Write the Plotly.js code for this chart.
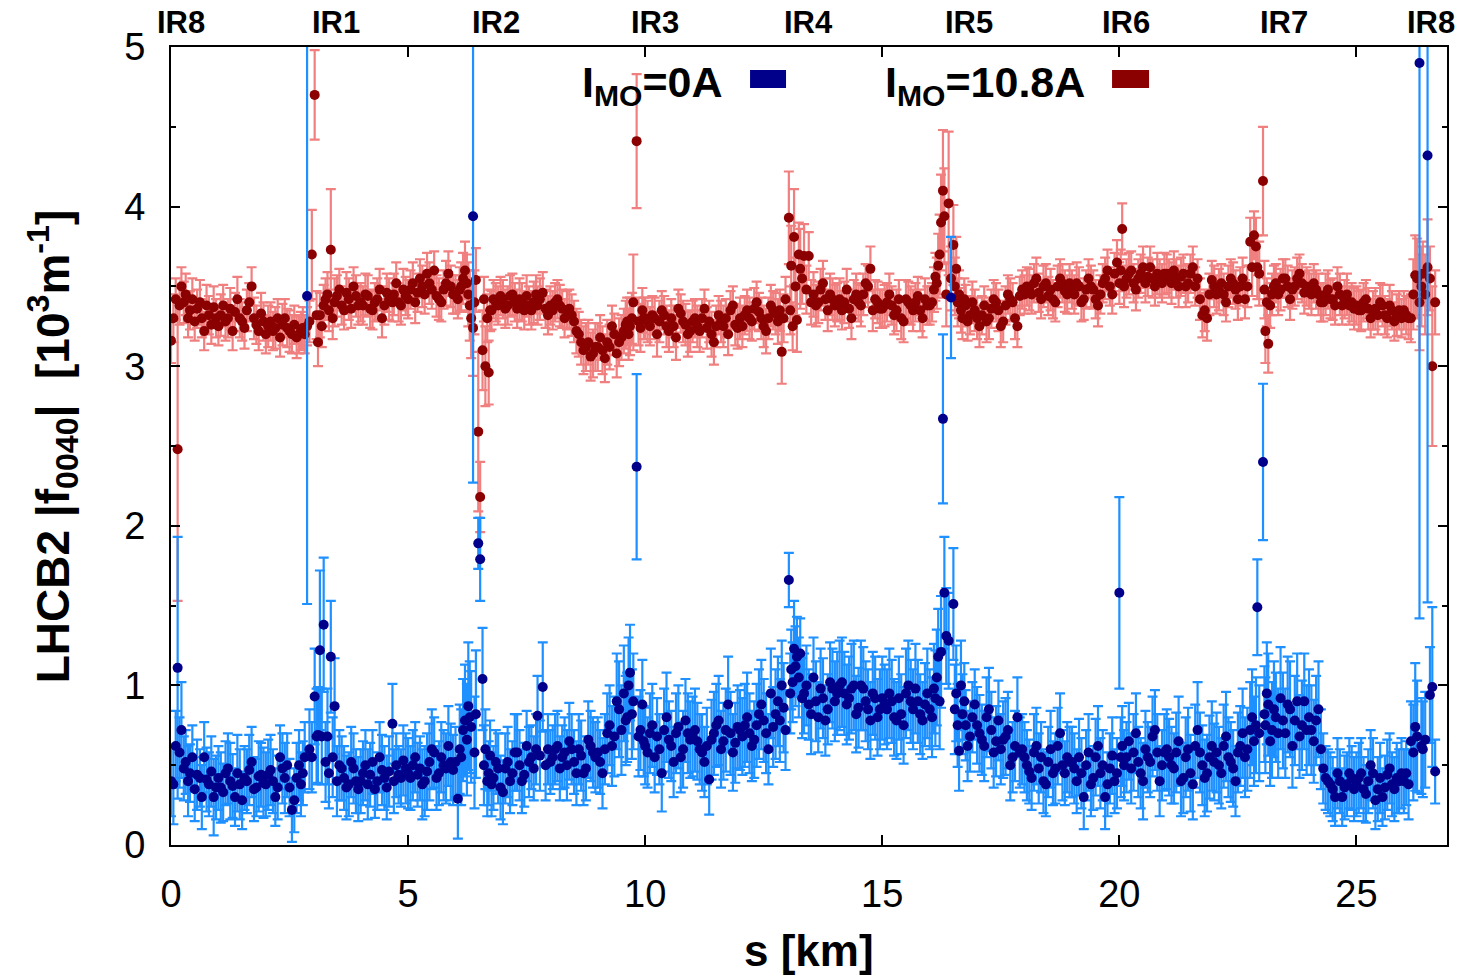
<!DOCTYPE html>
<html>
<head>
<meta charset="utf-8">
<script src="https://cdn.plot.ly/plotly-3.0.1.min.js"></script>
<style>html,body{margin:0;padding:0;background:#fff;}#chart{width:1460px;height:978px;}</style>
</head>
<body>
<div id="chart"></div>
<script>
// BPM positions s [km]
const S = [
 0.00,0.05,0.10,0.14,0.18,0.22,0.27,0.31,0.36,0.40,0.45,0.50,0.55,0.61,0.65,0.70,0.75,0.80,0.85,0.90,0.95,
 1.00,1.05,1.10,1.15,1.20,1.25,1.30,1.35,1.40,1.45,1.50,1.55,1.60,1.65,1.70,1.75,1.80,1.85,1.90,1.95,
 2.00,2.05,2.10,2.15,2.20,2.25,2.30,2.35,2.40,2.45,2.50,2.55,2.60,2.65,2.70,2.74,2.78,2.82,2.87,
 2.92,2.97,3.03,3.07,3.10,3.14,3.18,3.22,3.26,3.30,3.33,3.37,3.41,3.45,3.50,3.55,3.60,3.65,3.70,3.75,3.80,3.85,3.90,3.95,
 4.00,4.05,4.10,4.15,4.20,4.25,4.30,4.35,4.40,4.45,4.50,4.55,4.60,4.67,4.70,4.75,4.80,4.85,4.90,4.95,
 5.00,5.05,5.10,5.15,5.20,5.25,5.30,5.35,5.40,5.45,5.50,5.55,5.60,5.65,5.70,5.75,5.80,5.85,5.90,5.95,
 6.00,6.05,6.09,6.12,6.16,6.20,6.24,6.27,6.30,6.33,6.37,6.40,6.43,6.48,6.52,6.57,6.60,6.63,6.67,6.70,6.73,6.76,6.80,6.85,6.90,6.95,
 7.00,7.05,7.10,7.15,7.20,7.25,7.30,7.35,7.40,7.45,7.50,7.55,7.60,7.65,7.70,7.73,7.78,7.84,7.90,7.95,
 8.00,8.05,8.10,8.15,8.20,8.25,8.30,8.35,8.40,8.45,8.50,8.55,8.60,8.65,8.70,8.75,8.80,8.85,8.90,8.95,
 9.00,9.05,9.10,9.15,9.20,9.25,9.30,9.35,9.40,9.45,9.50,9.55,9.59,9.62,9.65,9.68,9.72,9.75,9.82,9.86,9.90,9.94,9.97,
 10.00,10.05,10.10,10.15,10.20,10.25,10.30,10.35,10.40,10.45,10.50,10.55,10.60,10.65,10.70,10.75,10.80,10.85,10.90,10.95,
 11.00,11.05,11.10,11.15,11.20,11.25,11.30,11.35,11.40,11.45,11.50,11.55,11.60,11.65,11.70,11.75,11.80,11.85,11.90,11.95,
 12.00,12.05,12.10,12.15,12.20,12.25,12.30,12.35,12.40,12.45,12.50,12.55,12.60,12.65,12.70,12.75,12.80,12.84,12.88,12.92,12.96,
 13.03,13.06,13.08,13.11,13.14,13.17,13.20,13.24,13.27,13.31,13.35,13.40,13.45,13.50,13.55,13.60,13.65,13.70,13.75,13.80,13.85,13.90,13.95,
 14.00,14.05,14.10,14.15,14.20,14.25,14.30,14.35,14.40,14.45,14.50,14.55,14.60,14.65,14.70,14.75,14.80,14.85,14.90,14.95,
 15.00,15.05,15.10,15.15,15.20,15.25,15.30,15.35,15.40,15.45,15.50,15.55,15.60,15.65,15.70,15.75,15.80,15.85,15.90,15.95,
 16.00,16.05,16.09,16.12,16.15,16.18,16.21,16.24,16.28,16.31,16.35,16.40,16.45,16.50,16.53,16.56,16.59,16.62,16.66,16.69,16.73,16.76,16.80,16.85,16.90,16.95,
 17.00,17.05,17.10,17.15,17.20,17.25,17.30,17.35,17.40,17.45,17.50,17.55,17.60,17.65,17.70,17.75,17.80,17.85,17.90,17.95,
 18.00,18.05,18.10,18.15,18.20,18.25,18.30,18.35,18.40,18.45,18.50,18.55,18.60,18.65,18.70,18.75,18.80,18.85,18.90,18.95,
 19.00,19.05,19.10,19.15,19.20,19.25,19.30,19.35,19.40,19.45,19.50,19.55,19.60,19.65,19.70,19.75,19.80,19.85,19.90,19.95,
 20.00,20.03,20.06,20.10,20.15,20.20,20.25,20.30,20.35,20.40,20.45,20.50,20.55,20.60,20.65,20.70,20.75,20.80,20.85,20.90,20.95,
 21.00,21.05,21.10,21.15,21.20,21.25,21.30,21.35,21.40,21.45,21.50,21.55,21.60,21.65,21.70,21.75,21.80,21.85,21.90,21.95,
 22.00,22.05,22.10,22.15,22.20,22.25,22.30,22.35,22.40,22.45,22.50,22.55,22.60,22.65,22.70,22.76,22.80,22.84,22.88,22.91,22.95,
 23.03,23.06,23.08,23.11,23.14,23.18,23.22,23.26,23.30,23.35,23.40,23.45,23.50,23.55,23.60,23.65,23.70,23.75,23.80,23.85,23.90,23.95,
 24.00,24.05,24.10,24.15,24.20,24.25,24.30,24.35,24.40,24.45,24.50,24.55,24.60,24.65,24.70,24.75,24.80,24.85,24.90,24.95,
 25.00,25.05,25.10,25.15,25.20,25.25,25.30,25.35,25.40,25.45,25.50,25.55,25.60,25.65,25.70,25.75,25.80,25.85,25.90,25.95,
 26.00,26.05,26.10,26.15,26.20,26.24,26.28,26.33,26.37,26.40,26.45,26.50,26.55,26.60,26.66
];

// |f0040| for I_MO = 0A (blue)
const F0 = [
 0.40,0.38,0.62,1.11,0.58,0.72,0.48,0.52,0.40,0.45,0.55,0.35,0.44,0.42,0.30,0.55,0.41,0.38,0.46,0.30,0.36,
 0.42,0.36,0.33,0.45,0.48,0.40,0.37,0.30,0.45,0.38,0.28,0.42,0.40,0.47,0.52,0.35,0.36,0.43,0.44,0.39,
 0.38,0.44,0.47,0.40,0.30,0.36,0.55,0.48,0.42,0.50,0.36,0.22,0.28,0.42,0.50,0.38,0.45,0.55,3.44,
 0.60,0.55,0.93,0.68,0.69,1.22,0.68,1.38,0.52,0.68,0.45,1.18,0.55,0.87,0.40,0.50,0.48,0.42,0.36,0.38,0.52,0.48,0.40,0.35,
 0.40,0.45,0.50,0.38,0.44,0.52,0.35,0.40,0.55,0.47,0.42,0.36,0.46,0.76,0.40,0.50,0.44,0.42,0.53,0.48,
 0.45,0.42,0.50,0.55,0.44,0.48,0.38,0.40,0.46,0.52,0.60,0.58,0.42,0.45,0.55,0.50,0.48,0.62,0.52,0.47,
 0.52,0.29,0.60,0.55,0.72,0.78,0.66,0.87,0.80,0.74,3.94,0.58,0.82,1.89,1.79,1.04,0.50,0.60,0.40,0.45,0.56,0.38,0.42,0.52,0.48,0.36,
 0.33,0.48,0.52,0.40,0.45,0.58,0.58,0.50,0.40,0.44,0.62,0.52,0.55,0.48,0.60,0.81,0.56,0.99,0.50,0.60,
 0.52,0.55,0.60,0.62,0.48,0.55,0.58,0.50,0.65,0.60,0.52,0.45,0.60,0.56,0.45,0.48,0.66,0.62,0.58,0.55,
 0.58,0.52,0.45,0.60,0.70,0.75,0.62,0.68,0.90,0.85,0.72,0.95,0.78,0.80,1.00,1.08,0.82,0.90,2.37,0.68,0.72,0.88,0.65,
 0.62,0.58,0.70,0.75,0.55,0.68,0.60,0.45,0.72,0.80,0.66,0.62,0.52,0.70,0.74,0.55,0.60,0.78,0.70,0.66,
 0.68,0.72,0.65,0.60,0.58,0.52,0.62,0.41,0.66,0.70,0.75,0.78,0.60,0.65,0.72,0.88,0.70,0.58,0.64,0.74,
 0.72,0.68,0.75,0.80,0.70,0.62,0.66,0.75,0.82,0.88,0.78,0.70,0.60,0.95,0.74,0.82,0.90,0.78,1.00,0.86,0.72,
 1.66,0.95,1.10,1.02,1.23,1.12,1.18,1.05,1.20,0.92,0.95,1.00,0.88,0.82,1.05,0.90,0.80,0.98,0.92,0.78,0.85,1.02,0.98,
 0.90,0.95,1.00,1.02,0.95,0.88,0.92,0.98,1.00,0.82,0.86,1.00,0.98,0.90,0.85,0.78,0.95,0.92,0.80,0.85,
 0.92,0.88,0.85,0.95,0.90,0.80,0.78,0.92,0.82,0.75,0.95,1.00,0.90,0.85,0.98,0.90,0.82,0.78,0.88,0.95,
 0.85,0.80,0.98,0.92,1.05,1.18,0.90,1.21,2.67,1.58,1.31,1.28,3.43,1.51,0.85,0.95,0.75,0.59,1.00,0.82,0.90,0.75,0.62,0.68,0.80,0.88,
 0.75,0.70,0.66,0.62,0.80,0.85,0.72,0.58,0.65,0.78,0.60,0.66,0.68,0.72,0.50,0.55,0.62,0.80,0.58,0.60,
 0.55,0.50,0.46,0.42,0.58,0.62,0.48,0.55,0.40,0.38,0.52,0.60,0.45,0.48,0.62,0.70,0.50,0.45,0.55,0.52,
 0.52,0.48,0.40,0.55,0.45,0.30,0.50,0.58,0.38,0.42,0.55,0.62,0.45,0.50,0.30,0.38,0.48,0.56,0.40,0.45,
 1.58,0.55,0.62,0.50,0.55,0.65,0.48,0.58,0.70,0.52,0.45,0.40,0.60,0.55,0.52,0.68,0.72,0.58,0.40,0.50,0.58,
 0.60,0.55,0.50,0.48,0.58,0.65,0.40,0.42,0.55,0.60,0.45,0.38,0.62,0.72,0.58,0.50,0.42,0.45,0.55,0.62,
 0.52,0.58,0.50,0.45,0.62,0.68,0.55,0.52,0.48,0.40,0.58,0.62,0.70,0.55,0.60,0.72,0.80,0.65,0.75,1.49,0.70,
 2.40,0.82,0.75,0.95,0.88,0.65,0.72,0.85,0.80,0.70,0.92,0.78,0.70,0.88,0.85,0.62,0.78,0.90,0.68,0.75,0.90,0.72,
 0.80,0.72,0.65,0.78,0.85,0.60,0.48,0.42,0.40,0.38,0.35,0.30,0.45,0.40,0.30,0.36,0.38,0.45,0.42,0.35,
 0.38,0.42,0.45,0.35,0.32,0.40,0.50,0.45,0.28,0.35,0.42,0.30,0.36,0.44,0.48,0.38,0.35,0.42,0.40,0.45,
 0.40,0.45,0.38,0.65,0.58,0.74,0.68,4.90,0.62,0.60,0.66,4.32,0.94,0.99,0.46
];
const F0_ERR = [
 0.22,0.25,0.22,0.82,0.22,0.30,0.20,0.20,0.22,0.18,0.20,0.20,0.22,0.18,0.20,0.22,0.20,0.20,0.22,0.24,0.20,
 0.20,0.22,0.18,0.20,0.22,0.24,0.20,0.18,0.24,0.22,0.18,0.20,0.20,0.22,0.22,0.20,0.18,0.22,0.20,0.22,
 0.20,0.22,0.22,0.20,0.18,0.20,0.20,0.22,0.22,0.20,0.18,0.20,0.20,0.22,0.22,0.20,0.20,0.22,1.93,
 0.25,0.22,0.30,0.30,0.30,0.50,0.30,0.42,0.25,0.30,0.22,0.35,0.25,0.30,0.22,0.22,0.20,0.20,0.20,0.20,0.22,0.22,0.20,0.20,
 0.20,0.20,0.22,0.22,0.20,0.20,0.18,0.18,0.22,0.22,0.20,0.20,0.22,0.25,0.20,0.20,0.18,0.18,0.22,0.22,
 0.22,0.20,0.22,0.22,0.20,0.20,0.22,0.22,0.24,0.24,0.25,0.22,0.20,0.20,0.22,0.22,0.22,0.25,0.24,0.22,
 0.22,0.25,0.28,0.30,0.32,0.35,0.35,0.40,0.35,0.35,1.67,0.35,0.40,0.16,0.26,0.32,0.25,0.25,0.22,0.20,0.22,0.20,0.20,0.20,0.22,0.20,
 0.20,0.22,0.22,0.20,0.20,0.24,0.24,0.22,0.20,0.20,0.22,0.22,0.20,0.20,0.22,0.25,0.22,0.28,0.22,0.22,
 0.20,0.20,0.22,0.22,0.20,0.20,0.22,0.22,0.24,0.22,0.20,0.20,0.22,0.22,0.20,0.20,0.24,0.22,0.22,0.22,
 0.22,0.20,0.22,0.22,0.25,0.25,0.25,0.25,0.30,0.30,0.28,0.30,0.28,0.28,0.30,0.30,0.28,0.30,0.58,0.25,0.25,0.28,0.22,
 0.24,0.22,0.25,0.26,0.22,0.24,0.22,0.24,0.26,0.28,0.24,0.22,0.22,0.25,0.26,0.22,0.24,0.26,0.25,0.24,
 0.25,0.26,0.24,0.22,0.24,0.22,0.24,0.22,0.25,0.26,0.26,0.28,0.24,0.24,0.26,0.30,0.26,0.24,0.25,0.26,
 0.25,0.24,0.26,0.28,0.25,0.22,0.24,0.26,0.28,0.28,0.26,0.25,0.22,0.28,0.25,0.28,0.28,0.26,0.28,0.28,0.25,
 0.17,0.25,0.25,0.25,0.30,0.25,0.25,0.25,0.22,0.25,0.25,0.25,0.22,0.25,0.25,0.25,0.22,0.25,0.25,0.22,0.22,0.25,0.25,
 0.25,0.26,0.28,0.28,0.26,0.25,0.26,0.28,0.28,0.24,0.25,0.28,0.26,0.25,0.25,0.24,0.26,0.26,0.24,0.25,
 0.26,0.25,0.25,0.28,0.26,0.24,0.24,0.26,0.25,0.24,0.28,0.28,0.26,0.25,0.28,0.26,0.25,0.24,0.26,0.28,
 0.25,0.25,0.28,0.30,0.30,0.30,0.30,0.35,0.53,0.35,0.30,0.30,0.38,0.35,0.28,0.30,0.26,0.25,0.28,0.25,0.24,0.22,0.22,0.22,0.22,0.22,
 0.24,0.24,0.22,0.22,0.25,0.26,0.24,0.22,0.22,0.25,0.22,0.24,0.24,0.24,0.22,0.22,0.22,0.25,0.22,0.22,
 0.22,0.22,0.20,0.20,0.24,0.24,0.22,0.22,0.20,0.20,0.22,0.24,0.20,0.22,0.24,0.25,0.22,0.20,0.22,0.22,
 0.22,0.22,0.20,0.24,0.22,0.20,0.22,0.24,0.20,0.20,0.24,0.25,0.22,0.22,0.20,0.20,0.22,0.24,0.20,0.22,
 0.60,0.25,0.25,0.22,0.22,0.24,0.22,0.24,0.25,0.22,0.22,0.24,0.24,0.22,0.22,0.25,0.25,0.24,0.22,0.22,0.24,
 0.25,0.24,0.24,0.22,0.25,0.28,0.22,0.22,0.25,0.26,0.24,0.22,0.26,0.30,0.25,0.25,0.24,0.24,0.26,0.28,
 0.24,0.25,0.24,0.22,0.26,0.28,0.25,0.25,0.24,0.22,0.25,0.25,0.28,0.25,0.26,0.30,0.30,0.28,0.30,0.30,0.30,
 0.49,0.30,0.30,0.32,0.32,0.28,0.30,0.30,0.28,0.28,0.32,0.30,0.28,0.30,0.30,0.26,0.28,0.30,0.26,0.28,0.30,0.28,
 0.30,0.28,0.26,0.28,0.30,0.25,0.22,0.20,0.20,0.20,0.20,0.18,0.22,0.20,0.18,0.20,0.20,0.22,0.20,0.20,
 0.20,0.22,0.22,0.20,0.18,0.20,0.22,0.22,0.18,0.20,0.22,0.18,0.20,0.22,0.22,0.20,0.20,0.22,0.20,0.22,
 0.20,0.20,0.22,0.25,0.30,0.40,0.35,3.48,0.30,0.30,0.30,2.80,0.30,0.50,0.20
];

// |f0040| for I_MO = 10.8A (red)
const F108 = [
 3.16,3.30,3.42,2.48,3.38,3.50,3.40,3.45,3.30,3.35,3.42,3.28,3.36,3.40,3.30,3.22,3.38,3.32,3.26,3.37,3.30,
 3.25,3.32,3.38,3.28,3.30,3.36,3.22,3.34,3.42,3.30,3.28,3.24,3.35,3.40,3.50,3.30,3.26,3.22,3.33,3.28,
 3.20,3.25,3.28,3.22,3.24,3.30,3.18,3.26,3.30,3.24,3.22,3.20,3.26,3.18,3.20,3.22,3.24,3.20,3.25,
 3.28,3.70,4.70,3.32,3.15,3.32,3.25,3.38,3.42,3.45,3.35,3.73,3.30,3.40,3.44,3.48,3.38,3.35,3.46,3.42,3.36,3.50,3.44,3.38,
 3.40,3.38,3.45,3.44,3.36,3.35,3.40,3.42,3.48,3.30,3.38,3.46,3.42,3.40,3.45,3.52,3.40,3.38,3.48,3.44,
 3.42,3.48,3.52,3.40,3.46,3.55,3.50,3.45,3.58,3.52,3.48,3.60,3.44,3.42,3.40,3.48,3.52,3.58,3.50,3.45,
 3.45,3.42,3.48,3.50,3.55,3.60,3.52,3.45,3.38,3.30,3.24,3.40,3.54,2.59,2.18,3.10,3.42,3.00,3.30,2.96,3.35,3.35,3.42,3.40,3.38,3.44,
 3.42,3.36,3.38,3.44,3.45,3.40,3.36,3.42,3.40,3.35,3.44,3.38,3.35,3.40,3.45,3.38,3.42,3.46,3.36,3.32,
 3.38,3.35,3.40,3.42,3.38,3.36,3.30,3.35,3.36,3.32,3.28,3.22,3.20,3.15,3.10,3.12,3.15,3.06,3.08,3.12,
 3.12,3.18,3.10,3.05,3.15,3.12,3.25,3.20,3.08,3.15,3.18,3.22,3.26,3.28,3.20,3.25,3.30,3.40,4.41,3.28,3.24,3.35,3.30,
 3.30,3.28,3.25,3.32,3.30,3.20,3.28,3.35,3.32,3.25,3.22,3.30,3.25,3.18,3.36,3.33,3.28,3.26,3.20,3.22,
 3.28,3.30,3.25,3.22,3.30,3.36,3.24,3.28,3.20,3.15,3.25,3.32,3.28,3.25,3.30,3.20,3.35,3.38,3.26,3.24,
 3.30,3.25,3.32,3.35,3.30,3.28,3.36,3.40,3.34,3.30,3.25,3.22,3.30,3.38,3.35,3.33,3.28,3.35,3.09,3.30,3.42,
 3.93,3.35,3.63,3.25,3.81,3.50,3.29,3.70,3.61,3.55,3.69,3.48,3.69,3.40,3.45,3.38,3.40,3.48,3.52,3.42,3.35,3.45,3.42,
 3.38,3.40,3.42,3.35,3.40,3.48,3.36,3.30,3.42,3.45,3.40,3.38,3.45,3.52,3.50,3.61,3.35,3.42,3.40,3.36,
 3.36,3.38,3.40,3.45,3.38,3.32,3.35,3.42,3.30,3.28,3.42,3.40,3.38,3.35,3.40,3.44,3.35,3.30,3.42,3.38,
 3.38,3.40,3.48,3.56,3.52,3.63,3.70,3.90,4.10,3.94,3.45,4.02,3.55,3.76,3.50,3.61,3.40,3.45,3.35,3.30,3.42,3.38,3.28,3.32,3.40,3.35,
 3.30,3.25,3.32,3.38,3.28,3.30,3.36,3.42,3.40,3.35,3.25,3.28,3.38,3.45,3.42,3.40,3.30,3.25,3.44,3.48,
 3.45,3.50,3.48,3.45,3.52,3.55,3.46,3.42,3.50,3.52,3.44,3.48,3.42,3.40,3.50,3.55,3.52,3.47,3.45,3.52,
 3.48,3.45,3.52,3.50,3.40,3.42,3.48,3.55,3.50,3.48,3.42,3.38,3.45,3.52,3.55,3.60,3.50,3.45,3.58,3.65,
 3.52,3.60,3.86,3.50,3.55,3.58,3.60,3.52,3.48,3.55,3.58,3.62,3.52,3.56,3.62,3.55,3.50,3.58,3.55,3.52,3.58,
 3.58,3.55,3.52,3.60,3.55,3.50,3.56,3.58,3.50,3.52,3.58,3.62,3.50,3.55,3.42,3.32,3.35,3.30,3.45,3.54,
 3.50,3.45,3.48,3.52,3.45,3.40,3.50,3.55,3.52,3.48,3.42,3.50,3.55,3.42,3.50,3.78,3.62,3.82,3.75,3.62,3.58,
 4.16,3.48,3.22,3.40,3.14,3.38,3.45,3.50,3.52,3.45,3.48,3.55,3.55,3.50,3.42,3.48,3.50,3.55,3.58,3.52,3.46,3.50,
 3.48,3.45,3.52,3.48,3.45,3.40,3.40,3.45,3.48,3.42,3.42,3.38,3.50,3.45,3.38,3.42,3.45,3.38,3.40,3.36,
 3.38,3.35,3.35,3.40,3.42,3.36,3.30,3.35,3.36,3.32,3.40,3.38,3.32,3.30,3.38,3.35,3.28,3.32,3.35,3.30,
 3.35,3.32,3.30,3.30,3.45,3.57,3.55,3.40,3.50,3.58,3.45,3.62,3.55,3.00,3.40
];
const F108_ERR = [
 0.14,0.15,0.13,0.95,0.12,0.12,0.13,0.13,0.12,0.12,0.13,0.12,0.12,0.14,0.12,0.12,0.13,0.12,0.12,0.13,0.12,
 0.12,0.13,0.13,0.12,0.12,0.13,0.12,0.12,0.14,0.12,0.12,0.13,0.13,0.12,0.12,0.13,0.12,0.12,0.13,0.12,
 0.12,0.13,0.12,0.12,0.13,0.12,0.12,0.13,0.12,0.12,0.13,0.12,0.12,0.13,0.12,0.12,0.13,0.12,0.12,
 0.13,0.28,0.28,0.15,0.15,0.14,0.13,0.13,0.13,0.14,0.13,0.38,0.13,0.15,0.13,0.13,0.12,0.12,0.13,0.13,0.12,0.12,0.13,0.12,
 0.12,0.12,0.13,0.13,0.12,0.12,0.12,0.13,0.13,0.12,0.12,0.12,0.13,0.12,0.13,0.13,0.12,0.12,0.13,0.12,
 0.12,0.12,0.13,0.13,0.12,0.12,0.13,0.12,0.13,0.13,0.12,0.12,0.13,0.13,0.12,0.12,0.14,0.14,0.13,0.12,
 0.12,0.12,0.14,0.15,0.16,0.18,0.18,0.20,0.22,0.25,0.30,0.20,0.20,0.50,0.22,0.25,0.14,0.25,0.15,0.20,0.13,0.12,0.12,0.12,0.12,0.12,
 0.12,0.12,0.12,0.13,0.13,0.12,0.12,0.13,0.12,0.12,0.13,0.12,0.12,0.13,0.12,0.12,0.13,0.13,0.12,0.12,
 0.12,0.12,0.12,0.12,0.13,0.12,0.12,0.12,0.12,0.13,0.13,0.14,0.14,0.14,0.15,0.15,0.14,0.15,0.15,0.15,
 0.15,0.14,0.15,0.15,0.14,0.14,0.13,0.13,0.15,0.15,0.14,0.14,0.15,0.15,0.16,0.18,0.16,0.30,0.42,0.15,0.15,0.14,0.13,
 0.13,0.13,0.12,0.12,0.13,0.14,0.13,0.12,0.12,0.13,0.13,0.12,0.13,0.14,0.12,0.12,0.13,0.13,0.14,0.13,
 0.13,0.12,0.13,0.13,0.12,0.12,0.13,0.13,0.14,0.14,0.13,0.12,0.13,0.13,0.12,0.13,0.12,0.12,0.13,0.13,
 0.13,0.13,0.12,0.13,0.13,0.12,0.13,0.13,0.12,0.13,0.13,0.14,0.13,0.13,0.12,0.13,0.14,0.13,0.20,0.15,0.14,
 0.29,0.15,0.25,0.15,0.30,0.18,0.20,0.20,0.25,0.16,0.20,0.15,0.15,0.14,0.14,0.13,0.13,0.13,0.14,0.13,0.13,0.13,0.13,
 0.13,0.12,0.13,0.12,0.13,0.13,0.12,0.13,0.12,0.13,0.12,0.13,0.13,0.12,0.13,0.14,0.13,0.12,0.13,0.12,
 0.12,0.13,0.12,0.13,0.12,0.12,0.13,0.12,0.13,0.13,0.12,0.13,0.12,0.13,0.12,0.12,0.13,0.12,0.13,0.12,
 0.12,0.12,0.14,0.15,0.16,0.20,0.25,0.30,0.38,0.30,0.20,0.45,0.20,0.25,0.18,0.20,0.15,0.15,0.14,0.13,0.13,0.13,0.12,0.12,0.13,0.13,
 0.13,0.13,0.12,0.12,0.13,0.13,0.12,0.12,0.12,0.13,0.13,0.13,0.12,0.12,0.13,0.12,0.13,0.13,0.12,0.12,
 0.12,0.12,0.13,0.12,0.12,0.13,0.12,0.12,0.13,0.12,0.12,0.13,0.12,0.12,0.13,0.12,0.12,0.13,0.12,0.12,
 0.12,0.12,0.13,0.12,0.12,0.13,0.12,0.12,0.13,0.12,0.12,0.13,0.12,0.12,0.13,0.13,0.12,0.12,0.13,0.14,
 0.13,0.13,0.16,0.13,0.12,0.13,0.12,0.12,0.13,0.12,0.12,0.13,0.12,0.12,0.13,0.12,0.12,0.13,0.12,0.12,0.13,
 0.12,0.12,0.13,0.12,0.12,0.13,0.12,0.12,0.13,0.12,0.12,0.13,0.12,0.12,0.13,0.14,0.13,0.14,0.13,0.12,
 0.13,0.12,0.13,0.12,0.13,0.12,0.13,0.12,0.13,0.12,0.13,0.12,0.13,0.12,0.13,0.15,0.18,0.15,0.18,0.20,0.20,
 0.34,0.18,0.20,0.15,0.18,0.14,0.13,0.13,0.12,0.13,0.13,0.12,0.12,0.13,0.13,0.12,0.12,0.13,0.12,0.12,0.13,0.12,
 0.12,0.13,0.12,0.12,0.13,0.12,0.12,0.13,0.12,0.12,0.13,0.12,0.12,0.13,0.12,0.12,0.13,0.12,0.12,0.13,
 0.12,0.12,0.13,0.12,0.12,0.13,0.12,0.12,0.13,0.12,0.12,0.13,0.12,0.12,0.13,0.12,0.12,0.13,0.12,0.12,
 0.12,0.12,0.13,0.15,0.22,0.25,0.25,0.30,0.25,0.20,0.25,0.30,0.20,0.50,0.20
];

// Interaction-region labels along the top
const IR_LABELS = ['IR8','IR1','IR2','IR3','IR4','IR5','IR6','IR7','IR8'];
const IR_POS = [0.22, 3.47, 6.85, 10.2, 13.45, 16.82, 20.14, 23.47, 26.57];

const SERIES_NAMES = ['I<sub>MO</sub>=0A', 'I<sub>MO</sub>=10.8A'];

const FONT = 'Liberation Sans, Arial, Helvetica, sans-serif';
const BLUE_MK = '#00008b', BLUE_EB = '#1e90ff';
const RED_MK = '#8b0000', RED_EB = '#f08080';

const traces = [
  {
    x: S, y: F108, type: 'scatter', mode: 'markers', name: SERIES_NAMES[1],
    marker: {color: RED_MK, size: 10},
    error_y: {type: 'data', array: F108_ERR, visible: true, color: RED_EB, thickness: 2.2, width: 5},
    showlegend: false
  },
  {
    x: S, y: F0, type: 'scatter', mode: 'markers', name: SERIES_NAMES[0],
    marker: {color: BLUE_MK, size: 10},
    error_y: {type: 'data', array: F0_ERR, visible: true, color: BLUE_EB, thickness: 2.2, width: 5},
    showlegend: false
  }
];

const annotations = IR_LABELS.map((t, i) => ({
  text: t, x: IR_POS[i], xref: 'x', y: 1.031, yref: 'paper',
  xanchor: 'center', yanchor: 'middle', showarrow: false,
  font: {family: FONT, size: 31, color: '#000', weight: 'bold'}
}));

annotations.push({
  text: 'LHCB2 |f<sub>0040</sub>|&nbsp; [10<sup>3</sup>m<sup>-1</sup>]',
  xref: 'paper', yref: 'paper', x: -0.093, y: 0.5, textangle: -90,
  xanchor: 'center', yanchor: 'middle', showarrow: false,
  font: {family: FONT, size: 46, color: '#000', weight: 'bold'}
});
annotations.push({
  text: 's [km]', xref: 'paper', yref: 'paper', x: 0.5, y: -0.132,
  xanchor: 'center', yanchor: 'middle', showarrow: false,
  font: {family: FONT, size: 44, color: '#000', weight: 'bold'}
});
annotations.push({
  text: SERIES_NAMES[0], xref: 'paper', yref: 'paper', x: 0.377, y: 0.953,
  xanchor: 'center', yanchor: 'middle', showarrow: false,
  font: {family: FONT, size: 43, color: '#000', weight: 'bold'}
});
annotations.push({
  text: SERIES_NAMES[1], xref: 'paper', yref: 'paper', x: 0.638, y: 0.953,
  xanchor: 'center', yanchor: 'middle', showarrow: false,
  font: {family: FONT, size: 43, color: '#000', weight: 'bold'}
});

const shapes = [
  {type: 'rect', xref: 'paper', yref: 'paper', x0: 0.4538, x1: 0.482, y0: 0.9486, y1: 0.9712,
   fillcolor: BLUE_MK, line: {width: 0}},
  {type: 'rect', xref: 'paper', yref: 'paper', x0: 0.7375, x1: 0.7665, y0: 0.9486, y1: 0.9712,
   fillcolor: RED_MK, line: {width: 0}}
];

const layout = {
  width: 1460, height: 978,
  margin: {l: 171, r: 13, t: 47, b: 133, pad: 0},
  paper_bgcolor: '#fff', plot_bgcolor: '#fff',
  font: {family: FONT, size: 38, color: '#000'},
  showlegend: false,
  xaxis: {
    range: [0, 26.91], tickvals: [0, 5, 10, 15, 20, 25],
    ticks: 'inside', ticklen: 10, tickwidth: 2, tickcolor: '#000',
    showline: true, linewidth: 2, linecolor: '#000', mirror: 'ticks',
    showgrid: false, zeroline: false, ticklabelstandoff: 14,
    tickfont: {family: FONT, size: 38, color: '#000'}
  },
  yaxis: {
    range: [0, 5], tickvals: [0, 1, 2, 3, 4, 5],
    ticks: 'inside', ticklen: 9, tickwidth: 2, tickcolor: '#000',
    minor: {dtick: 0.5, ticks: 'inside', ticklen: 5, tickwidth: 2, tickcolor: '#000', showgrid: false},
    showline: true, linewidth: 2, linecolor: '#000', mirror: 'ticks',
    showgrid: false, zeroline: false, ticklabelstandoff: 16,
    tickfont: {family: FONT, size: 38, color: '#000'}
  },
  annotations: annotations,
  shapes: shapes
};

Plotly.newPlot('chart', traces, layout, {staticPlot: true, displayModeBar: false});
</script>
</body>
</html>
